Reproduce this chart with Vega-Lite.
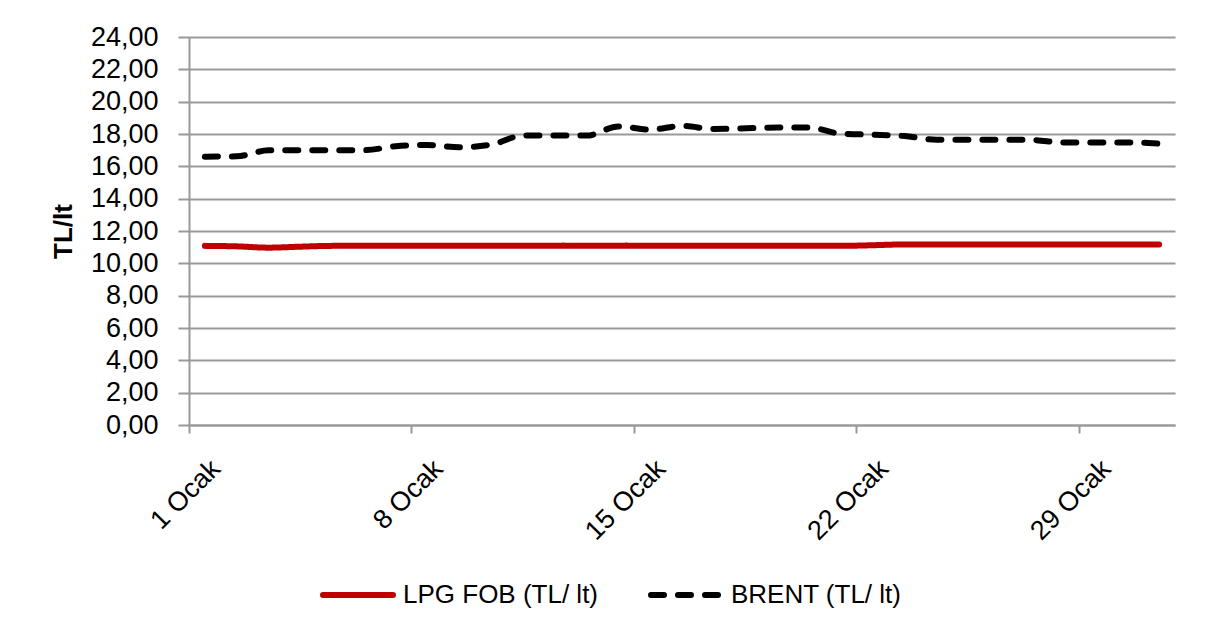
{
  "$schema": "https://vega.github.io/schema/vega-lite/v6.json",
  "width": 986,
  "height": 388,
  "autosize": {"type": "none"},
  "padding": {"left": 189, "top": 37, "right": 36, "bottom": 205},
  "background": "white",
  "config": {"view": {"stroke": null}, "font": "Liberation Sans"},
  "data": {
    "values": [
      {"gun": 1, "LPG FOB (TL/ lt)": 11.08, "BRENT (TL/ lt)": 16.6},
      {"gun": 2, "LPG FOB (TL/ lt)": 11.05, "BRENT (TL/ lt)": 16.62},
      {"gun": 3, "LPG FOB (TL/ lt)": 10.97, "BRENT (TL/ lt)": 16.99},
      {"gun": 4, "LPG FOB (TL/ lt)": 11.03, "BRENT (TL/ lt)": 17.0},
      {"gun": 5, "LPG FOB (TL/ lt)": 11.08, "BRENT (TL/ lt)": 17.0},
      {"gun": 6, "LPG FOB (TL/ lt)": 11.08, "BRENT (TL/ lt)": 17.0},
      {"gun": 7, "LPG FOB (TL/ lt)": 11.08, "BRENT (TL/ lt)": 17.24},
      {"gun": 8, "LPG FOB (TL/ lt)": 11.08, "BRENT (TL/ lt)": 17.32},
      {"gun": 9, "LPG FOB (TL/ lt)": 11.08, "BRENT (TL/ lt)": 17.18},
      {"gun": 10, "LPG FOB (TL/ lt)": 11.08, "BRENT (TL/ lt)": 17.34},
      {"gun": 11, "LPG FOB (TL/ lt)": 11.08, "BRENT (TL/ lt)": 17.9},
      {"gun": 12, "LPG FOB (TL/ lt)": 11.08, "BRENT (TL/ lt)": 17.9},
      {"gun": 13, "LPG FOB (TL/ lt)": 11.08, "BRENT (TL/ lt)": 17.9},
      {"gun": 14, "LPG FOB (TL/ lt)": 11.08, "BRENT (TL/ lt)": 18.47},
      {"gun": 15, "LPG FOB (TL/ lt)": 11.08, "BRENT (TL/ lt)": 18.27},
      {"gun": 16, "LPG FOB (TL/ lt)": 11.08, "BRENT (TL/ lt)": 18.5},
      {"gun": 17, "LPG FOB (TL/ lt)": 11.08, "BRENT (TL/ lt)": 18.31},
      {"gun": 18, "LPG FOB (TL/ lt)": 11.08, "BRENT (TL/ lt)": 18.35},
      {"gun": 19, "LPG FOB (TL/ lt)": 11.08, "BRENT (TL/ lt)": 18.4},
      {"gun": 20, "LPG FOB (TL/ lt)": 11.08, "BRENT (TL/ lt)": 18.4},
      {"gun": 21, "LPG FOB (TL/ lt)": 11.08, "BRENT (TL/ lt)": 18.02},
      {"gun": 22, "LPG FOB (TL/ lt)": 11.12, "BRENT (TL/ lt)": 17.96},
      {"gun": 23, "LPG FOB (TL/ lt)": 11.17, "BRENT (TL/ lt)": 17.87},
      {"gun": 24, "LPG FOB (TL/ lt)": 11.17, "BRENT (TL/ lt)": 17.65},
      {"gun": 25, "LPG FOB (TL/ lt)": 11.17, "BRENT (TL/ lt)": 17.65},
      {"gun": 26, "LPG FOB (TL/ lt)": 11.17, "BRENT (TL/ lt)": 17.65},
      {"gun": 27, "LPG FOB (TL/ lt)": 11.17, "BRENT (TL/ lt)": 17.63},
      {"gun": 28, "LPG FOB (TL/ lt)": 11.17, "BRENT (TL/ lt)": 17.48},
      {"gun": 29, "LPG FOB (TL/ lt)": 11.17, "BRENT (TL/ lt)": 17.48},
      {"gun": 30, "LPG FOB (TL/ lt)": 11.17, "BRENT (TL/ lt)": 17.48},
      {"gun": 31, "LPG FOB (TL/ lt)": 11.17, "BRENT (TL/ lt)": 17.4}
    ]
  },
  "transform": [
    {"fold": ["LPG FOB (TL/ lt)", "BRENT (TL/ lt)"], "as": ["seri", "deger"]}
  ],
  "mark": {
    "type": "line",
    "interpolate": "monotone",
    "strokeWidth": 6,
    "strokeCap": "round",
    "strokeJoin": "round"
  },
  "encoding": {
    "x": {
      "field": "gun",
      "type": "ordinal",
      "bandPosition": 0.5,
      "scale": {"type": "band", "paddingInner": 0, "paddingOuter": 0},
      "axis": {
        "values": [1, 8, 15, 22, 29],
        "bandPosition": 0,
        "labelExpr": "datum.value + ' Ocak'",
        "labelAngle": -45,
        "labelAlign": "right",
        "labelBaseline": "top",
        "labelFontSize": 27,
        "labelColor": "#000000",
        "labelPadding": 22,
        "labelOffset": 2,
        "labelLimit": 400,
        "tickSize": 8,
        "tickColor": "#999999",
        "tickWidth": 2,
        "domainColor": "#999999",
        "domainWidth": 2,
        "grid": false,
        "title": null
      }
    },
    "y": {
      "field": "deger",
      "type": "quantitative",
      "scale": {"domain": [0, 24], "nice": false},
      "axis": {
        "values": [0, 2, 4, 6, 8, 10, 12, 14, 16, 18, 20, 22, 24],
        "labelExpr": "replace(format(datum.value, '.2f'), '.', ',')",
        "labelFontSize": 27,
        "labelColor": "#000000",
        "labelPadding": 20,
        "tickSize": 11,
        "tickColor": "#999999",
        "tickWidth": 2,
        "domainColor": "#999999",
        "domainWidth": 2,
        "gridColor": "#999999",
        "gridWidth": 2,
        "title": "TL/lt",
        "titleFontSize": 26,
        "titleFontWeight": "bold",
        "titleColor": "#000000",
        "titlePadding": 14
      }
    },
    "color": {
      "field": "seri",
      "type": "nominal",
      "scale": {"domain": ["LPG FOB (TL/ lt)", "BRENT (TL/ lt)"], "range": ["#C00000", "#000000"]},
      "legend": {
        "title": null,
        "orient": "none",
        "direction": "horizontal",
        "legendX": 131,
        "legendY": 520,
        "symbolType": "stroke",
        "symbolSize": 4900,
        "symbolStrokeWidth": 6,
        "labelFontSize": 26,
        "labelColor": "#000000",
        "labelOffset": 7,
        "labelLimit": 400,
        "columnPadding": 40,
        "encode": {
          "symbols": {
            "update": {
              "strokeCap": {"value": "round"},
              "strokeDash": {"signal": "datum.value === 'BRENT (TL/ lt)' ? [14, 12] : [1, 0]"}
            }
          }
        }
      }
    },
    "strokeDash": {
      "field": "seri",
      "type": "nominal",
      "scale": {"domain": ["LPG FOB (TL/ lt)", "BRENT (TL/ lt)"], "range": [[1, 0], [13, 14]]},
      "legend": null
    }
  }
}
